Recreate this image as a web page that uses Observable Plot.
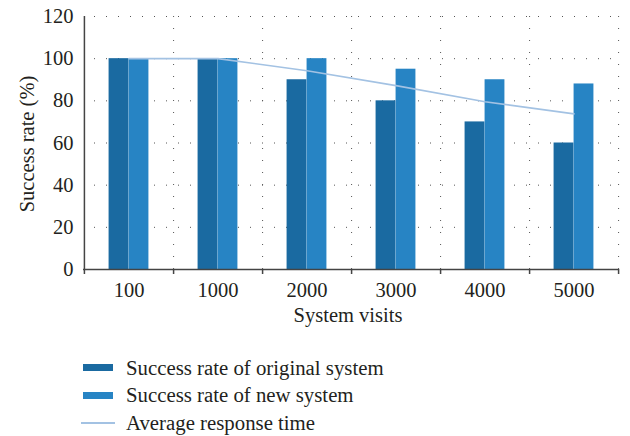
<!DOCTYPE html>
<html><head><meta charset="utf-8">
<script src="https://cdn.jsdelivr.net/npm/d3@7"></script>
<script src="https://cdn.jsdelivr.net/npm/@observablehq/plot@0.6"></script>
<style>
body{margin:0;background:#fff;font-family:"Liberation Serif",serif;color:#231f20}
#chart svg{display:block}
#legend{margin-top:14px;padding-left:81px}
.row{display:flex;align-items:center;height:27.5px;font-size:20.8px}
.sw{width:34px;display:flex;justify-content:center;margin-right:11px}
</style></head><body><div id="chart"></div><div id="legend"></div>
<script>
const visits = ["100","1000","2000","3000","4000","5000"];
const originalRate = [100,100,90,80,70,60];
const newRate = [100,100,100,95,90,88];
const avgResponse = [100,100,94.3,87.2,79.6,73.8];
const yTicks = [0,20,40,60,80,100,120];
const seriesNames = ["Success rate of original system","Success rate of new system","Average response time"];
const colors = ["#1a6aa1","#2784c4","#a3c2e3"];
const xTitle = "System visits";
const yTitle = "Success rate (%)";

const W = 630, H = 340, mL = 83, mR = 12, mT = 16, mB = 71;
const bw = (W - mL - mR) / visits.length;
const barW = 20;
const rows = visits.map((v, i) => ({visits: v, original: originalRate[i], newer: newRate[i], avg: avgResponse[i]}));
const grid = {stroke: "#555", strokeWidth: 1, strokeDasharray: "1,11"};
const axisColor = "#444";

const chart = Plot.plot({
  width: W, height: H,
  marginLeft: mL, marginRight: mR, marginTop: mT, marginBottom: mB,
  style: {fontFamily: "Liberation Serif, serif", fontSize: "20.5px", color: "#231f20", background: "#fff"},
  x: {type: "band", domain: visits, padding: 0, label: null},
  y: {domain: [0, 120], label: null},
  marks: [
    Plot.ruleY(yTicks.filter(d => d > 0), {...grid, strokeDashoffset: -11}),
    Plot.ruleX(visits, {x: d => d, dx: bw / 2, ...grid}),
    Plot.barY(rows, {x: "visits", y: "original", fill: colors[0], insetLeft: bw / 2 - barW, insetRight: bw / 2}),
    Plot.barY(rows, {x: "visits", y: "newer", fill: colors[1], insetLeft: bw / 2, insetRight: bw / 2 - barW}),
    Plot.line(rows, {x: "visits", y: "avg", stroke: colors[2], strokeWidth: 1.6}),
    Plot.ruleY([0], {stroke: axisColor, strokeWidth: 1.5}),
    Plot.ruleX([visits[0]], {x: d => d, dx: -bw / 2, stroke: axisColor, strokeWidth: 1.5, insetBottom: -5}),
    Plot.ruleX(visits, {x: d => d, dx: bw / 2, y1: 0, y2: 0, insetBottom: -5, stroke: axisColor, strokeWidth: 1.5}),
    Plot.axisY({ticks: yTicks, tickSize: 0, tickPadding: 10, label: null}),
    Plot.axisX({tickSize: 0, tickPadding: 13, label: null}),
    Plot.text([xTitle], {frameAnchor: "bottom", dy: 52, dx: -3, fill: "#231f20"}),
    Plot.text([yTitle], {frameAnchor: "left", textAnchor: "middle", rotate: -90, dx: -56.5, dy: 1, fill: "#231f20"})
  ]
});
document.getElementById("chart").appendChild(chart);

const legend = document.getElementById("legend");
seriesNames.forEach((name, i) => {
  const row = document.createElement("div");
  row.className = "row";
  const sw = document.createElement("div");
  sw.className = "sw";
  const mark = document.createElement("div");
  if (i < 2) { mark.style.width = "30px"; mark.style.height = "7px"; }
  else { mark.style.width = "34px"; mark.style.height = "2px"; }
  mark.style.background = colors[i];
  sw.appendChild(mark);
  const label = document.createElement("span");
  label.textContent = name;
  row.appendChild(sw); row.appendChild(label);
  legend.appendChild(row);
});
</script></body></html>
